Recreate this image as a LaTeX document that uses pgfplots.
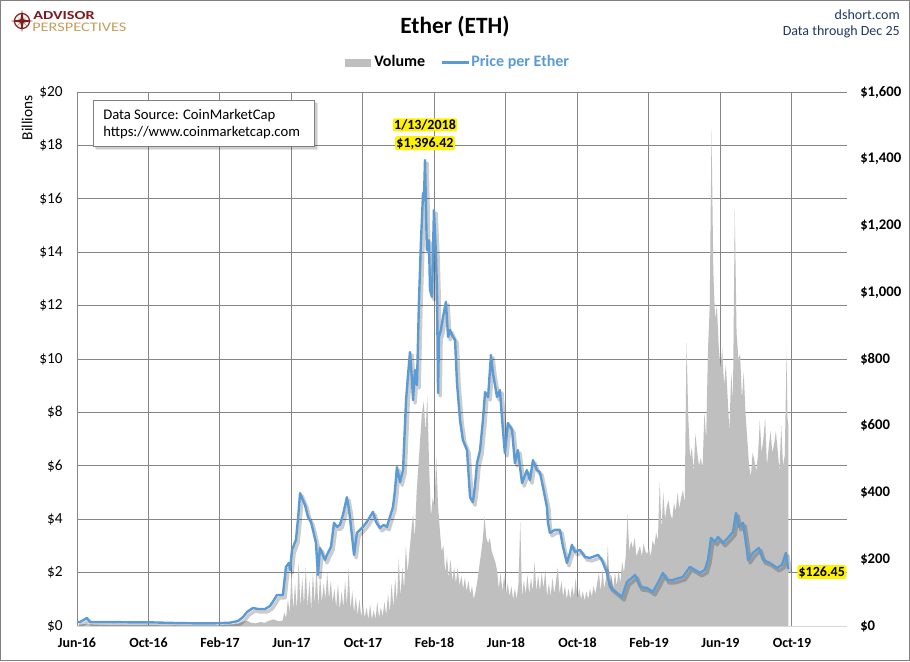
\documentclass[border=0pt]{standalone}
\usepackage{pgfplots}
\pgfplotsset{compat=1.18}
\usepackage{pgfplotstable}
\usepackage{fontspec}
\setmainfont{Carlito}
\definecolor{volgray}{RGB}{191,191,191}
\definecolor{priceblue}{RGB}{91,155,213}
\definecolor{gridgray}{RGB}{134,134,134}
\definecolor{axlight}{RGB}{217,217,217}
\definecolor{navy}{RGB}{31,56,100}
\definecolor{apred}{RGB}{128,26,30}
\definecolor{apgold}{RGB}{196,160,90}

\pgfplotstableread{
m p
0 12
0.17 12
0.56 24
0.73 12
1.85 12
2.97 11
4.08 11
5.48 9
6.60 8
7.72 8
8.56 10
9.01 15
9.29 27
9.51 42
9.85 54
10.13 51
10.52 51
10.80 60
11.02 78
11.19 93
11.52 93
11.69 177
11.86 189
11.92 168
12.03 228
12.25 258
12.36 318
12.48 398
12.64 377
12.76 362
12.92 327
13.09 312
13.20 288
13.37 249
13.48 153
13.59 234
13.71 219
13.87 198
14.04 219
14.21 237
14.38 309
14.55 297
14.71 303
14.88 333
15.10 386
15.22 348
15.33 297
15.50 213
15.66 279
15.83 288
16.00 297
16.22 312
16.39 327
16.56 342
16.73 312
16.95 294
17.17 303
17.34 297
17.51 327
17.68 357
17.79 407
17.90 476
18.07 431
18.24 467
18.41 677
18.52 752
18.63 821
18.74 737
18.80 677
18.91 767
19.02 722
19.13 968
19.24 1147
19.36 1297
19.41 1276
19.47 1396
19.55 1186
19.58 1126
19.69 1156
19.75 1007
19.86 986
19.97 1246
20.08 1117
20.14 1007
20.20 698
20.25 866
20.36 887
20.48 926
20.64 971
20.76 866
20.87 887
20.98 872
21.15 857
21.26 728
21.43 617
21.59 557
21.82 527
21.99 386
22.15 371
22.27 422
22.38 488
22.55 527
22.71 617
22.83 701
23.00 686
23.16 812
23.27 758
23.50 686
23.66 707
23.83 587
23.94 518
24.11 608
24.34 587
24.50 488
24.67 527
24.90 428
25.17 467
25.34 437
25.51 497
25.73 467
25.90 461
26.07 416
26.29 357
26.35 309
26.46 279
26.74 288
27.02 288
27.19 237
27.41 189
27.58 219
27.69 243
27.86 222
28.14 228
28.42 207
28.70 204
29.15 213
29.37 198
29.65 159
29.82 117
30.21 99
30.49 87
30.77 132
31.05 144
31.22 153
31.50 117
31.89 114
32.22 102
32.50 129
32.78 159
33.01 138
33.34 138
33.90 147
34.29 177
34.57 168
34.85 159
35.13 168
35.30 198
35.47 264
35.69 252
35.86 267
36.14 249
36.42 264
36.70 282
36.87 339
37.03 297
37.26 309
37.48 228
37.54 198
37.82 219
38.15 234
38.38 198
38.77 189
39.16 174
39.44 183
39.66 219
39.78 171
}\pricedata

\pgfplotstableread{
m v
0 0.04
0.5 0.08
1 0.05
1.5 0.04
2 0.03
2.5 0.04
3 0.03
3.5 0.03
4 0.03
4.5 0.03
5 0.02
5.5 0.03
6 0.02
6.5 0.02
7 0.02
7.5 0.02
8 0.03
8.5 0.05
9 0.08
9.25 0.15
9.5 0.2
9.75 0.12
10 0.1
10.25 0.15
10.5 0.12
10.75 0.2
11 0.25
11.25 0.18
11.5 0.2
11.6 0.5
11.7 0.3
11.8 1.0
11.9 0.5
12.0 2.0
12.1 0.6
12.2 1.6
12.3 0.6
12.4 2.4
12.5 0.7
12.6 1.8
12.7 0.8
12.8 2.2
12.9 0.7
13.0 1.7
13.1 0.6
13.2 2.0
13.3 0.8
13.4 2.3
13.5 0.7
13.6 1.9
13.7 0.9
13.8 1.6
13.9 1.0
14.0 2.0
14.1 1.0
14.2 1.7
14.3 0.9
14.4 1.4
14.5 0.7
14.6 1.6
14.7 0.6
14.8 1.3
14.9 0.7
15.0 1.7
15.1 0.8
15.2 2.2
15.3 0.6
15.4 1.3
15.5 0.5
15.6 1.1
15.7 0.4
15.8 1.0
15.9 0.35
16.0 0.8
16.1 0.3
16.2 0.7
16.3 0.25
16.4 0.8
16.5 0.25
16.6 0.6
16.7 0.25
16.8 0.9
16.9 0.3
17.0 0.7
17.1 0.35
17.2 0.9
17.3 0.4
17.4 1.2
17.5 0.5
17.6 1.6
17.7 0.7
17.8 1.8
17.9 0.9
18.0 2.5
18.1 1.1
18.2 2.2
18.3 1.4
18.4 3.0
18.5 2.0
18.6 2.8
18.7 3.5
18.8 4.2
18.9 3.3
19.0 5.0
19.1 6.0
19.2 7.0
19.3 8.0
19.4 8.4
19.5 7.3
19.6 8.6
19.7 6.0
19.8 4.1
19.9 4.8
20.0 4.5
20.1 6.3
20.2 4.5
20.3 3.6
20.4 2.8
20.5 3.0
20.6 2.0
20.7 2.6
20.8 1.8
20.9 2.5
21.0 1.7
21.1 2.2
21.2 1.6
21.3 2.2
21.4 1.5
21.5 1.9
21.6 1.4
21.7 1.8
21.8 1.3
21.9 1.7
22.0 1.2
22.1 1.5
22.2 1.0
22.3 1.3
22.4 1.7
22.5 2.2
22.6 2.7
22.7 3.2
22.8 4.1
22.9 3.3
23.0 3.1
23.1 3.3
23.2 2.8
23.3 2.6
23.4 2.4
23.5 2.1
23.6 1.4
23.7 2.0
23.8 1.3
23.9 1.9
24.0 1.2
24.1 1.6
24.2 1.1
24.3 1.5
24.4 1.0
24.5 1.4
24.6 1.0
24.7 1.6
24.8 3.9
24.9 1.1
25.0 1.7
25.1 1.2
25.2 1.9
25.3 1.2
25.4 1.8
25.5 1.3
25.6 2.4
25.7 1.3
25.8 1.9
25.9 1.3
26.0 2.0
26.1 1.4
26.2 2.1
26.3 1.1
26.4 1.6
26.5 1.1
26.6 1.8
26.7 1.2
26.8 1.7
26.9 2.2
27.0 1.2
27.1 1.7
27.2 1.1
27.3 1.5
27.4 1.0
27.5 1.4
27.6 1.0
27.7 1.5
27.8 1.1
27.9 1.8
28.0 1.0
28.1 1.4
28.2 1.0
28.3 1.3
28.4 0.95
28.5 1.3
28.6 1.0
28.7 1.4
28.8 1.1
28.9 1.5
29.0 1.2
29.1 1.6
29.2 2.0
29.3 1.3
29.4 2.1
29.5 1.4
29.6 1.8
29.7 3.0
29.8 1.5
29.9 1.9
30.0 1.4
30.1 2.0
30.2 1.5
30.3 2.1
30.4 1.6
30.5 2.4
30.6 2.0
30.7 2.6
30.8 4.2
30.9 2.8
31.0 3.2
31.1 2.9
31.2 3.3
31.3 2.6
31.4 2.8
31.5 3.0
31.6 2.6
31.7 3.1
31.8 2.8
31.9 2.7
32.0 2.9
32.1 2.6
32.2 3.2
32.3 3.0
32.4 3.5
32.5 3.2
32.6 5.4
32.7 3.6
32.8 5.0
32.9 4.0
33.0 4.5
33.1 4.7
33.2 4.2
33.3 4.0
33.4 4.6
33.5 4.3
33.6 5.0
33.7 4.4
33.8 4.8
33.9 5.1
34.0 4.6
34.1 10.6
34.2 7.8
34.3 6.3
34.4 6.7
34.5 5.8
34.6 7.2
34.7 6.5
34.8 6.0
34.9 6.3
35.0 5.9
35.1 8.0
35.2 7.0
35.3 10.3
35.4 12.0
35.5 18.6
35.6 13.3
35.7 11.5
35.8 12.0
35.9 10.5
36.0 9.6
36.1 10.4
36.2 9.0
36.3 9.8
36.4 8.6
36.5 7.3
36.6 9.5
36.7 8.5
36.8 15.6
36.9 11.0
37.0 10.0
37.1 10.2
37.2 8.5
37.3 9.5
37.4 8.0
37.5 7.0
37.6 6.0
37.7 5.6
37.8 6.5
37.9 6.2
38.0 5.8
38.1 6.4
38.2 7.7
38.3 6.5
38.4 7.0
38.5 7.8
38.6 6.0
38.7 6.7
38.8 7.3
38.9 6.5
39.0 6.8
39.1 7.3
39.2 6.6
39.3 5.8
39.4 7.5
39.5 6.0
39.6 6.4
39.7 10.3
39.75 7.8
39.8 7.5
}\voldata

\begin{document}
\begin{tikzpicture}
\begin{scope}[x=0.75pt,y=-0.75pt]
\useasboundingbox (0,0) rectangle (910,661);
\fill[white] (0,0) rectangle (910,661);
\end{scope}

\begin{axis}[
  at={(57.75pt,-469.5pt)}, anchor=south west,
  scale only axis, width=577.5pt, height=400.5pt,
  xmin=0, xmax=43.08, ymin=0, ymax=20,
  /pgf/number format/assume math mode=true,
  xtick={0,4,...,40},
  xticklabels={Jun-16,Oct-16,Feb-17,Jun-17,Oct-17,Feb-18,Jun-18,Oct-18,Feb-19,Jun-19,Oct-19},
  xticklabel style={font=\bfseries\fontsize{10.5}{12}\selectfont, anchor=base, inner sep=0pt, yshift=-16pt},
  ytick={0,2,...,20},
  yticklabel={\$\pgfmathprintnumber{\tick}},
  yticklabel style={font=\fontsize{11.5}{13}\selectfont, anchor=east, inner sep=0pt, xshift=-10.5pt},
  grid=major, grid style={draw=gridgray, line width=0.75pt},
  major tick length=0pt, tick style={draw=none},
  axis line style={draw=none},
]
\addplot[fill=volgray, draw=none] table[x=m, y=v] {\voldata} \closedcycle;
\end{axis}

\begin{axis}[
  at={(57.75pt,-469.5pt)}, anchor=south west,
  scale only axis, width=577.5pt, height=400.5pt,
  xmin=0, xmax=43.08, ymin=0, ymax=1600,
  /pgf/number format/assume math mode=true,
  axis x line=none, axis y line*=right,
  ytick={0,200,...,1600},
  yticklabel={\$\pgfmathprintnumber[1000 sep={,}]{\tick}},
  yticklabel style={font=\bfseries\fontsize{11}{13}\selectfont, anchor=west, inner sep=0pt, xshift=9.75pt},
  major tick length=0pt, tick style={draw=none},
  axis line style={draw=none},
]
\addplot[black, opacity=0.2, line width=2.6pt, line join=round, xshift=1.6pt, yshift=-2.2pt] table[x=m, y=p] {\pricedata};
\addplot[priceblue, line width=1.8pt, line join=round] table[x=m, y=p] {\pricedata};
\end{axis}

\begin{scope}[x=0.75pt,y=-0.75pt]
% bottom axis line and outer frame
\draw[axlight, line width=0.75pt] (77,626) -- (847,626);
\draw[gray, line width=0.75pt] (0.5,0.5) rectangle (909.5,660.5);
% logo
\draw[apred, line width=0.9pt] (22,21) circle (7.5);
\fill[apgold] (22,21) -- (28,15) -- (23,21) -- (28,27) -- (22,22) -- (16,27) -- (21,21) -- (16,15) -- cycle;
\fill[apred] (22,10) -- (23.6,19.4) -- (33,21) -- (23.6,22.6) -- (22,32) -- (20.4,22.6) -- (11,21) -- (20.4,19.4) -- cycle;
\node[anchor=base west, inner sep=0pt, text=apred, font=\bfseries\fontsize{9.2}{10}\selectfont] at (33,19.6) {\scalebox{1.32}[1]{ADVISOR}};
\node[anchor=base west, inner sep=0pt, text=apgold, font=\fontsize{9.8}{11}\selectfont] at (32,31.6) {\scalebox{1.25}[1]{PERSPECTIVES}};
% title
\node[anchor=base, inner sep=0pt, font=\bfseries\fontsize{17.5}{20}\selectfont] at (455,33) {Ether (ETH)};
\node[anchor=base east, inner sep=0pt, text=navy, font=\fontsize{10.5}{12}\selectfont] at (900,19) {dshort.com};
\node[anchor=base east, inner sep=0pt, text=navy, font=\fontsize{10.5}{12}\selectfont] at (900,35.5) {Data through Dec 25};
% legend
\fill[volgray] (345,59) rectangle (371,67);
\node[anchor=base west, inner sep=0pt, font=\bfseries\fontsize{12}{14}\selectfont] at (374,66.5) {Volume};
\draw[priceblue, line width=1.8pt] (442,62.5) -- (469,62.5);
\node[anchor=base west, inner sep=0pt, text=priceblue, font=\bfseries\fontsize{12}{14}\selectfont] at (471,66.5) {Price per Ether};
% y label
\node[rotate=90, inner sep=0pt, font=\fontsize{11.5}{13}\selectfont] at (27,118) {Billions};
% data source box
\fill[black, opacity=0.10] (96,103) rectangle (318,150);
\fill[black, opacity=0.10] (95,102) rectangle (316.5,148.5);
\filldraw[fill=white, draw=gray, line width=0.75pt] (93,100) rectangle (314,146);
\node[anchor=base west, inner sep=0pt, font=\fontsize{11}{13}\selectfont] at (103,119) {Data Source: CoinMarketCap};
\node[anchor=base west, inner sep=0pt, font=\fontsize{11}{13}\selectfont] at (103,136.7) {https://www.coinmarketcap.com};
% annotations
\node[anchor=base, fill=yellow, inner sep=1pt, rounded corners=1.5pt, font=\bfseries\fontsize{10.5}{12}\selectfont] at (425,129.5) {1/13/2018};
\node[anchor=base, fill=yellow, inner sep=1pt, rounded corners=1.5pt, font=\bfseries\fontsize{10.5}{12}\selectfont] at (425,147) {\$1,396.42};
\node[anchor=base west, fill=yellow, inner sep=1pt, rounded corners=1.5pt, font=\bfseries\fontsize{10.5}{12}\selectfont] at (797,576) {\$126.45};
\end{scope}
\end{tikzpicture}
\end{document}
